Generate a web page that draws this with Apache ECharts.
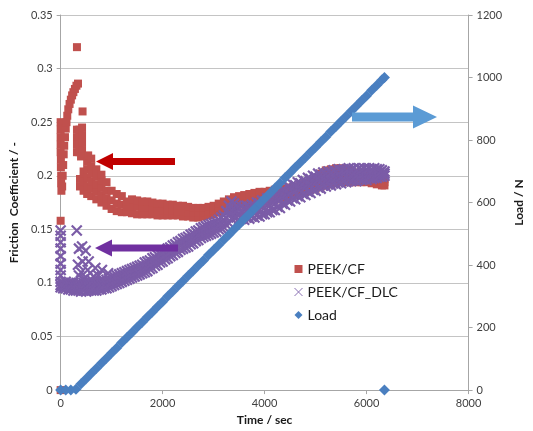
<!DOCTYPE html>
<html>
<head>
<meta charset="utf-8">
<script src="https://cdn.jsdelivr.net/npm/echarts@6/dist/echarts.min.js"></script>
<style>html,body{margin:0;padding:0;background:#fff}#c{width:533px;height:431px}</style>
</head>
<body>
<div id="c"></div>
<script>
// ---------- data ----------
const seriesNames = ['PEEK/CF', 'PEEK/CF_DLC', 'Load'];
const xTicks = [0, 2000, 4000, 6000, 8000];
const leftTicks = [0, 0.05, 0.1, 0.15, 0.2, 0.25, 0.3, 0.35];
const rightTicks = [0, 200, 400, 600, 800, 1000, 1200];

// PEEK/CF: start-up transient points [time, friction]
const redEarly = [
  [0,0],[0,0.158],
  [0,0.25],[0,0.243],[0,0.236],[0,0.229],[0,0.222],[5,0.215],[5,0.208],[10,0.2],[10,0.193],[15,0.186],
  [30,0.19],[40,0.2],[50,0.21],[60,0.22],[70,0.228],[85,0.236],[100,0.244],[115,0.25],[130,0.256],
  [150,0.262],[175,0.267],[200,0.271],[225,0.275],[250,0.278],[280,0.281],[310,0.284],[340,0.286],
  [320,0.32],[430,0.26],
  [320,0.243],[320,0.236],[320,0.229],[320,0.222],[370,0.243],[370,0.236],[370,0.229],[370,0.222],
  [420,0.245],[420,0.238],[420,0.231],[420,0.224],[400,0.218],
  [380,0.19],[380,0.197],[450,0.186],[450,0.195],[450,0.204],
  [520,0.183],[520,0.19],[520,0.198],[520,0.206],[520,0.213],[540,0.219],
  [600,0.181],[600,0.188],[600,0.195],[600,0.202],[600,0.209],[600,0.216],
  [700,0.178],[700,0.185],[700,0.192],[700,0.199],[700,0.206],
  [800,0.175],[800,0.182],[800,0.189],[800,0.196],[800,0.201],
  [900,0.172],[900,0.179],[900,0.186],[900,0.194]
];
// PEEK/CF: steady part, three rows across the band
const redTime = [1000,1100,1200,1300,1400,1500,1600,1700,1800,1900,2000,2100,2200,2300,2400,2500,2600,2700,2800,2900,
  3000,3100,3200,3300,3400,3500,3600,3700,3800,3900,4000,4100,4200,4300,4400,4500,4600,4700,4800,4900,
  5000,5100,5200,5300,5400,5500,5600,5700,5800,5900,6000,6100,6200,6300,6350];
const redLow = [0.169,0.167,0.166,0.166,0.165,0.164,0.164,0.164,0.164,0.163,0.163,0.163,0.163,0.163,0.162,0.162,0.161,0.161,0.162,0.163,
  0.164,0.166,0.168,0.170,0.172,0.173,0.174,0.175,0.176,0.176,0.177,0.177,0.178,0.179,0.180,0.181,0.182,0.184,0.185,0.187,
  0.188,0.190,0.191,0.192,0.193,0.194,0.194,0.194,0.194,0.194,0.194,0.193,0.192,0.191,0.191];
const redMid = [0.177,0.174,0.173,0.171,0.171,0.171,0.170,0.170,0.169,0.169,0.168,0.168,0.168,0.167,0.167,0.166,0.166,0.166,0.166,0.167,
  0.168,0.170,0.172,0.174,0.176,0.177,0.178,0.179,0.180,0.180,0.181,0.182,0.182,0.183,0.184,0.185,0.186,0.188,0.189,0.191,
  0.193,0.196,0.198,0.199,0.200,0.200,0.200,0.199,0.198,0.198,0.197,0.196,0.195,0.194,0.194];
const redHigh = [0.186,0.183,0.181,0.176,0.178,0.177,0.176,0.176,0.175,0.174,0.174,0.173,0.173,0.172,0.172,0.171,0.170,0.170,0.170,0.171,
  0.172,0.174,0.176,0.178,0.180,0.181,0.182,0.183,0.184,0.185,0.185,0.186,0.187,0.187,0.188,0.189,0.190,0.192,0.193,0.195,
  0.198,0.202,0.205,0.206,0.207,0.207,0.206,0.205,0.203,0.202,0.201,0.200,0.198,0.197,0.197];

// PEEK/CF_DLC: scattered start-up points [time, friction]
const dlcScatter = [
  [0,0.149],[0,0.144],[0,0.138],[0,0.132],[0,0.125],[0,0.118],[0,0.112],[0,0.107],
  [316,0.149],[360,0.132],[420,0.134],[490,0.13],[340,0.117],[430,0.12],[550,0.12],[680,0.114],
  [810,0.112],[530,0.112],[360,0.107],[645,0.106],[740,0.107],[930,0.109],[470,0.104],[600,0.103],[400,0.11]
];
// PEEK/CF_DLC: band, lower / middle / upper rows
const dlcTime = [0,50,100,150,200,250,300,350,400,450,500,550,600,650,700,750,800,850,900,950,
  1000,1050,1100,1150,1200,1250,1300,1350,1400,1450,1500,1550,1600,1650,1700,1750,1800,1850,1900,1950,
  2000,2050,2100,2150,2200,2250,2300,2350,2400,2450,2500,2550,2600,2650,2700,2750,2800,2850,2900,2950,
  3000,3050,3100,3150,3200,3250,3300,3350,3400,3450,3500,3550,3600,3650,3700,3750,3800,3850,3900,3950,
  4000,4050,4100,4150,4200,4250,4300,4350,4400,4450,4500,4550,4600,4650,4700,4750,4800,4850,4900,4950,
  5000,5050,5100,5150,5200,5250,5300,5350,5400,5450,5500,5550,5600,5650,5700,5750,5800,5850,5900,5950,
  6000,6050,6100,6150,6200,6250,6300,6350];
const dlcLow = [0.096,0.095,0.095,0.094,0.094,0.093,0.093,0.093,0.092,0.093,0.092,0.093,0.093,0.093,0.093,0.094,0.094,0.095,0.095,0.096,
  0.097,0.098,0.099,0.100,0.101,0.102,0.103,0.104,0.105,0.106,0.107,0.108,0.109,0.110,0.111,0.113,0.114,0.116,0.117,0.119,
  0.120,0.122,0.123,0.125,0.126,0.128,0.129,0.131,0.132,0.133,0.134,0.136,0.137,0.139,0.140,0.142,0.143,0.144,0.145,0.146,
  0.147,0.148,0.150,0.151,0.152,0.154,0.156,0.160,0.161,0.161,0.159,0.160,0.159,0.161,0.160,0.162,0.161,0.163,0.162,0.164,
  0.164,0.166,0.166,0.168,0.168,0.171,0.170,0.174,0.173,0.177,0.176,0.179,0.178,0.181,0.180,0.183,0.182,0.185,0.184,0.187,
  0.186,0.189,0.188,0.191,0.190,0.192,0.191,0.193,0.192,0.194,0.193,0.195,0.194,0.196,0.195,0.196,0.195,0.197,0.196,0.197,
  0.196,0.198,0.197,0.198,0.198,0.199,0.199,0.200];
const dlcMid = [0.098,0.097,0.098,0.097,0.097,0.096,0.096,0.096,0.095,0.096,0.096,0.096,0.096,0.096,0.097,0.097,0.098,0.098,0.099,0.100,
  0.101,0.102,0.103,0.104,0.105,0.106,0.107,0.108,0.109,0.110,0.111,0.112,0.113,0.115,0.116,0.117,0.119,0.120,0.122,0.123,
  0.125,0.126,0.128,0.129,0.131,0.132,0.134,0.135,0.137,0.138,0.139,0.141,0.142,0.144,0.145,0.147,0.148,0.149,0.150,0.151,
  0.152,0.153,0.155,0.156,0.158,0.161,0.164,0.168,0.168,0.167,0.165,0.166,0.165,0.167,0.166,0.168,0.167,0.169,0.168,0.171,
  0.170,0.173,0.172,0.175,0.174,0.178,0.177,0.181,0.180,0.184,0.183,0.186,0.185,0.188,0.187,0.190,0.189,0.192,0.191,0.194,
  0.193,0.196,0.195,0.197,0.196,0.198,0.197,0.199,0.198,0.200,0.199,0.201,0.200,0.202,0.201,0.202,0.200,0.202,0.201,0.202,
  0.201,0.203,0.202,0.203,0.202,0.203,0.202,0.202];
const dlcHigh = [0.101,0.100,0.101,0.100,0.100,0.100,0.099,0.100,0.099,0.100,0.100,0.099,0.100,0.100,0.101,0.101,0.102,0.102,0.103,0.104,
  0.105,0.106,0.107,0.108,0.109,0.110,0.111,0.112,0.113,0.114,0.115,0.116,0.117,0.119,0.120,0.121,0.123,0.124,0.126,0.127,
  0.129,0.130,0.132,0.133,0.135,0.136,0.138,0.139,0.141,0.142,0.143,0.145,0.146,0.148,0.149,0.151,0.152,0.153,0.154,0.155,
  0.156,0.157,0.159,0.161,0.163,0.167,0.172,0.176,0.174,0.172,0.170,0.171,0.170,0.172,0.171,0.173,0.172,0.175,0.174,0.177,
  0.176,0.179,0.178,0.181,0.180,0.184,0.183,0.187,0.186,0.190,0.189,0.192,0.191,0.194,0.193,0.196,0.195,0.198,0.197,0.200,
  0.199,0.202,0.201,0.203,0.202,0.204,0.203,0.205,0.204,0.206,0.205,0.206,0.205,0.207,0.206,0.207,0.205,0.207,0.206,0.207,
  0.206,0.207,0.206,0.207,0.206,0.206,0.205,0.204];

// Load [N]
const loadTime = [0,100,200,300,400,500,600,700,800,900,1000,1100,1200,1300,1400,1500,1600,1700,1800,1900,
  2000,2100,2200,2300,2400,2500,2600,2700,2800,2900,3000,3100,3200,3300,3400,3500,3600,3700,3800,3900,
  4000,4100,4200,4300,4400,4500,4600,4700,4800,4900,5000,5100,5200,5300,5400,5500,5600,5700,5800,5900,
  6000,6100,6200,6300,6350,6350];
const loadValue = [0,0,0,3,20,36,53,69,86,102,119,135,152,168,184,201,217,234,250,267,
  283,300,316,333,349,366,382,399,415,432,448,464,481,497,514,530,547,563,580,596,
  613,629,646,662,679,695,712,728,744,761,777,794,810,827,843,860,876,893,909,926,
  942,959,975,992,1000,0];

// ---------- build ----------
const redData = redEarly.slice();
redTime.forEach((t, i) => { redData.push([t, redLow[i]], [t, redMid[i]], [t, redHigh[i]]); });
const dlcData = dlcScatter.slice();
dlcTime.forEach((t, i) => { dlcData.push([t, dlcLow[i]], [t, dlcMid[i]], [t, dlcHigh[i]]); });
const loadData = loadTime.map((t, i) => [t, loadValue[i]]);

const FONT = 'Lato';
const plain = v => String(v);
const axisLabel = { color: '#404040', fontSize: 11, fontFamily: FONT, formatter: plain };
const nameStyle = { color: '#1a1a1a', fontSize: 12, fontWeight: 'bold', fontFamily: FONT };
const axisLine = { show: true, lineStyle: { color: '#a6a6a6', width: 1 } };
const axisTick = { show: true, inside: false, length: 4, lineStyle: { color: '#a6a6a6' } };

const chart = echarts.init(document.getElementById('c'), null, { renderer: 'canvas' });
chart.setOption({
  animation: false,
  backgroundColor: '#ffffff',
  grid: { left: 54, right: 56, top: 15, bottom: 38 },
  legend: {
    orient: 'vertical', left: 289, top: 257,
    itemWidth: 8, itemHeight: 8, itemGap: 9,
    textStyle: { color: '#1a1a1a', fontSize: 14, fontFamily: FONT },
    data: [
      { name: seriesNames[0] },
      { name: seriesNames[1], itemStyle: { borderWidth: 1, borderColor: '#8a70b4' } },
      { name: seriesNames[2] }
    ]
  },
  xAxis: {
    type: 'value', min: xTicks[0], max: xTicks[xTicks.length - 1], interval: xTicks[1] - xTicks[0],
    name: 'Time / sec', nameLocation: 'middle', nameGap: 23, nameTextStyle: nameStyle,
    axisLine: axisLine, axisTick: axisTick, axisLabel: axisLabel, splitLine: { show: false }
  },
  yAxis: [
    {
      type: 'value', position: 'left', min: leftTicks[0], max: leftTicks[leftTicks.length - 1], interval: 0.05,
      name: 'Friction  Coefficient / -', nameLocation: 'middle', nameGap: 34, nameTextStyle: nameStyle,
      axisLine: axisLine, axisTick: axisTick, axisLabel: axisLabel,
      splitLine: { show: true, lineStyle: { color: '#c4c4c4', width: 1 } }
    },
    {
      type: 'value', position: 'right', min: rightTicks[0], max: rightTicks[rightTicks.length - 1], interval: 200,
      name: 'Load / N', nameLocation: 'middle', nameGap: 40, nameTextStyle: nameStyle,
      axisLine: axisLine, axisTick: axisTick, axisLabel: axisLabel, splitLine: { show: false }
    }
  ],
  series: [
    {
      name: seriesNames[0], type: 'scatter', yAxisIndex: 0, symbol: 'rect', symbolSize: 8,
      itemStyle: { color: '#c0504d', opacity: 1 }, data: redData, z: 2
    },
    {
      name: seriesNames[1], type: 'scatter', yAxisIndex: 0,
      symbol: 'path://M0,0L10,10M10,0L0,10', symbolSize: 10,
      itemStyle: { color: 'rgba(0,0,0,0)', borderColor: '#7b5ca7', borderWidth: 2.2, opacity: 1 },
      data: dlcData, z: 3
    },
    {
      name: seriesNames[2], type: 'scatter', yAxisIndex: 1, symbol: 'diamond', symbolSize: 11,
      itemStyle: { color: '#4a7fc0', opacity: 1 }, data: loadData, z: 4
    }
  ],
  graphic: [
    { type: 'polygon', z: 100, shape: { points: [[175,158],[113,158],[113,153],[96,161.5],[113,170],[113,165],[175,165]] }, style: { fill: '#c00000' } },
    { type: 'polygon', z: 100, shape: { points: [[178,244.5],[112,244.5],[112,239.5],[95,248],[112,256.5],[112,251.5],[178,251.5]] }, style: { fill: '#7030a0' } },
    { type: 'polygon', z: 100, shape: { points: [[352,112.5],[413,112.5],[413,105.5],[437,117],[413,128.5],[413,121.5],[352,121.5]] }, style: { fill: '#5b9bd5' } }
  ]
});
</script>
</body>
</html>
